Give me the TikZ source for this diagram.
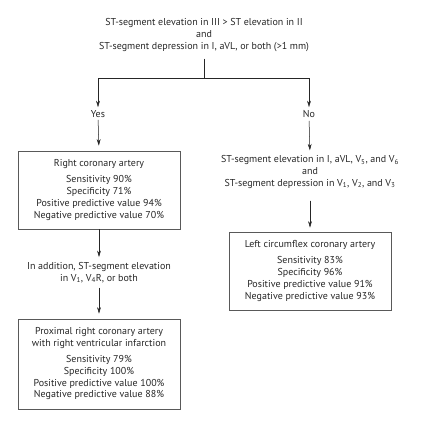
\documentclass[tikz,border=0pt]{standalone}
\usepackage{fontspec}
\setmainfont{PT Sans}
\usetikzlibrary{arrows.meta}
\begin{document}
\begin{tikzpicture}[x=1pt,y=-1pt,
  txt/.style={align=center,font=\fontsize{10}{11.8}\selectfont,inner sep=0pt,text=black!85},
  box/.style={draw=black!65,line width=0.7pt,minimum width=162pt,align=center,
    font=\fontsize{10}{11.8}\selectfont,inner sep=0pt,text=black!85},
  arr/.style={-{Stealth[length=6.5pt,width=3.8pt]},line width=0.5pt,draw=black!85,fill=black!85},
  ln/.style={line width=0.5pt,draw=black!85}]
\useasboundingbox (0,0) rectangle (422,428);
\node[txt] (q) at (204,35) {ST-segment elevation in III > ST elevation in II\\and\\ST-segment depression in I, aVL, or both (>1~mm)};
\coordinate (j) at (204,78);
\coordinate (jl) at (98,78);
\coordinate (jr) at (309,78);
\node[txt] (yes) at (98,114) {Yes};
\node[txt] (no) at (309,114) {No};
\node[box,minimum height=78pt] (rca) at (99,190) {Right coronary artery\\[4pt]Sensitivity 90\%\\Specificity 71\%\\Positive predictive value 94\%\\Negative predictive value 70\%};
\node[txt] (add) at (99,272.5) {In addition, ST-segment elevation\\in V\textsubscript{1}, V\textsubscript{4}R, or both};
\node[box,minimum height=90pt] (prca) at (99,364) {Proximal right coronary artery\\with right ventricular infarction\\[4pt]Sensitivity 79\%\\Specificity 100\%\\Positive predictive value 100\%\\Negative predictive value 88\%};
\node[txt] (lt) at (310,172) {ST-segment elevation in I, aVL, V\textsubscript{5}, and V\textsubscript{6}\\and\\ST-segment depression in V\textsubscript{1}, V\textsubscript{2}, and V\textsubscript{3}};
\node[box,minimum height=78pt] (lcx) at (310,271) {Left circumflex coronary artery\\[4pt]Sensitivity 83\%\\Specificity 96\%\\Positive predictive value 91\%\\Negative predictive value 93\%};
\draw[ln,shorten <=7pt] (q.south) -- (j);
\draw[ln] (jl) -- (jr);
\draw[arr,shorten >=3pt] (jl) -- (yes.north);
\draw[arr,shorten <=2pt,shorten >=5pt] (yes.south) -- (rca.north);
\draw[arr,shorten >=3pt] (jr) -- (no.north);
\draw[arr,shorten <=3pt,shorten >=5pt] (no.south) -- (lt.north);
\draw[arr,shorten >=5pt] (rca.south) -- (add.north);
\draw[arr,shorten <=5pt,shorten >=5pt] (add.south) -- (prca.north);
\draw[arr,shorten <=12pt,shorten >=4pt] (lt.south) -- (lcx.north);
\end{tikzpicture}
\end{document}
